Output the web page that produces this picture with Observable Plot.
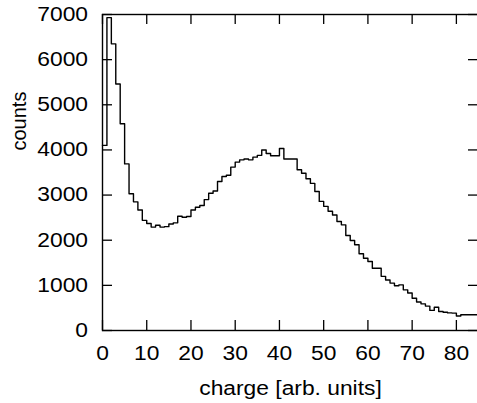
<!DOCTYPE html>
<html><head><meta charset="utf-8">
<script src="https://cdn.jsdelivr.net/npm/d3@7"></script>
<script src="https://cdn.jsdelivr.net/npm/@observablehq/plot@0.6"></script>
<style>html,body{margin:0;padding:0;background:#fff;}</style>
</head><body><div id="chart"></div>
<script>
// histogram counts, one value per unit-wide bin starting at charge 0
const counts = [
  4100, 6930, 6350, 5460, 4580, 3690, 3030, 2850, 2670, 2440,
  2370, 2290, 2330, 2290, 2300, 2360, 2385, 2530, 2510, 2525,
  2670, 2730, 2770, 2900, 3040, 3090, 3300, 3410, 3440, 3620,
  3730, 3780, 3800, 3780, 3840, 3880, 4000, 3920, 3870, 3870,
  4030, 3800, 3800, 3800, 3560, 3485, 3360, 3260, 3080, 2860,
  2750, 2640, 2560, 2415, 2340, 2105, 1995, 1900, 1700, 1600,
  1530, 1380, 1380, 1200, 1120, 1050, 990, 1010, 900, 830,
  715, 630, 590, 540, 445, 515, 420, 405, 390, 385,
  320, 350, 350, 350, 350
];
const xTicks = [0, 10, 20, 30, 40, 50, 60, 70, 80];
const yTicks = [0, 1000, 2000, 3000, 4000, 5000, 6000, 7000];
const xLabel = "charge [arb. units]";
const yLabel = "counts";
const xDomain = [0, 85];
const yDomain = [0, 7000];

// step outline: each bin's left edge, plus the closing right edge
const steps = counts.map((c, i) => ({x: i, c}));
steps.push({x: counts.length, c: counts[counts.length - 1]});

const W = 477, H = 403;
const mL = 102, mR = -1, mT = 14, mB = 73;
const plotW = W - mL - mR, plotH = H - mT - mB;
const font = "Liberation Sans, Arial, Helvetica, sans-serif";

const chart = Plot.plot({
  width: W, height: H,
  marginLeft: mL, marginRight: mR, marginTop: mT, marginBottom: mB,
  style: {fontFamily: font, background: "#fff", color: "#000", overflow: "hidden"},
  x: {domain: xDomain, axis: null},
  y: {domain: yDomain, axis: null},
  marks: [
    Plot.lineY(steps, {x: "x", y: "c", curve: "step-after", stroke: "#000", strokeWidth: 1.4}),
    Plot.tickX(xTicks, {x: d => d, insetTop: plotH - 10, stroke: "#000", strokeWidth: 1.3}),
    Plot.tickX(xTicks, {x: d => d, insetBottom: plotH - 10, stroke: "#000", strokeWidth: 1.3}),
    Plot.tickY(yTicks, {y: d => d, insetRight: plotW - 10, stroke: "#000", strokeWidth: 1.3}),
    Plot.tickY(yTicks, {y: d => d, insetLeft: plotW - 10, stroke: "#000", strokeWidth: 1.3}),
    Plot.frame({stroke: "#000", strokeWidth: 1.4}),
    Plot.text(xTicks, {x: d => d, text: d => String(d), frameAnchor: "bottom", dy: 22.9, lineAnchor: "middle", fontSize: 20, fill: "#000"}),
    Plot.text(yTicks, {y: d => d, text: d => String(d), frameAnchor: "left", textAnchor: "end", dx: -14.5, lineAnchor: "middle", fontSize: 20, fill: "#000"}),
    Plot.text([xLabel], {text: d => d, frameAnchor: "bottom", dy: 57.6, lineAnchor: "middle", fontSize: 20, fill: "#000"}),
    Plot.text([yLabel], {text: d => d, frameAnchor: "left", dx: -83.4, dy: -22, rotate: -90, lineAnchor: "middle", fontSize: 20, fill: "#000"})
  ]
});
document.getElementById("chart").appendChild(chart);

// the reference's lettering is horizontally widened; stretch horizontal texts to match
chart.querySelectorAll("text").forEach(t => {
  const tr = t.getAttribute("transform") || "";
  if (tr.includes("rotate")) return;
  const L = t.getComputedTextLength();
  t.setAttribute("textLength", (L * 1.14).toFixed(2));
  t.setAttribute("lengthAdjust", "spacingAndGlyphs");
});
</script>
</body></html>
